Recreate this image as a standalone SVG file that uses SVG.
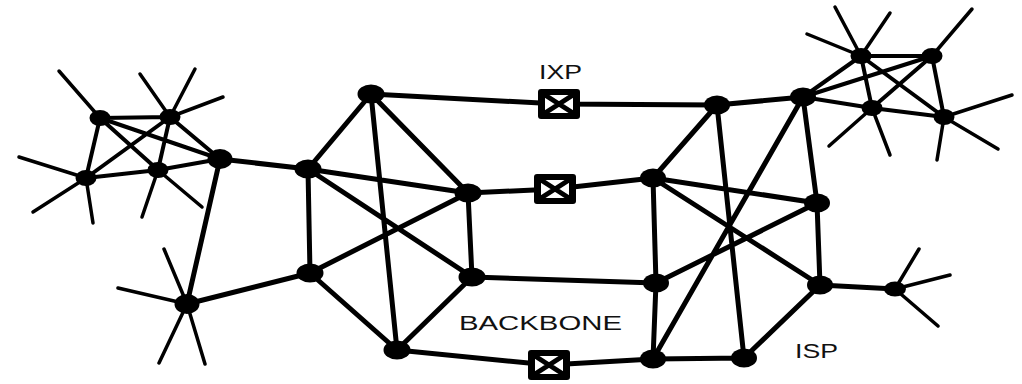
<svg xmlns="http://www.w3.org/2000/svg" width="1022" height="384" viewBox="0 0 1022 384">
<style>
.e{stroke:#000;stroke-width:5;stroke-linecap:round;fill:none}
.c{stroke:#000;stroke-width:4;stroke-linecap:round;fill:none}
.s{stroke:#000;stroke-width:3.5;stroke-linecap:round;fill:none}
.n{fill:#000}
.t{font-family:"Liberation Sans",Arial,sans-serif;font-size:20px;fill:#111}
</style>
<defs>
<g id="ixp">
<rect x="-21" y="-15" width="42" height="30" rx="3" fill="#000"/>
<rect x="-14" y="-9" width="28" height="18" fill="#fff"/>
<path d="M-14,-9 L14,9 M-14,9 L14,-9" stroke="#000" stroke-width="5"/>
</g>
</defs>
<rect width="1022" height="384" fill="#fff"/>
<g id="connectors">
<!-- left cluster spokes -->
<path class="s" d="M100,118 L59,71 M170,117 L140,74 M170,117 L195,69 M170,117 L223,97 M86,178 L19,157 M86,178 L33,212 M86,178 L93,223 M158,170 L142,217 M158,170 L202,207"/>
<!-- left cluster edges -->
<path class="c" d="M100,118 L170,117 M100,118 L86,178 M100,118 L158,170 M100,118 L220,159 M170,117 L86,178 M170,117 L158,170 M170,117 L220,159 M86,178 L158,170 M158,170 L220,159"/>
<!-- bottom-left node spokes -->
<path class="s" d="M187,304 L164,249 M187,304 L118,288 M187,304 L159,363 M187,304 L205,364"/>
<path class="e" d="M220,159 L187,304" stroke-width="6"/>
<path class="e" d="M220,159 L308,169 M187,304 L310,273"/>
<!-- left backbone -->
<path class="e" d="M371,94 L308,169 M371,94 L468,193 M371,94 L397,350 M308,169 L468,193 M308,169 L472,277 M308,169 L310,273 M310,273 L468,193 M310,273 L397,350 M468,193 L472,277 M472,277 L397,350"/>
<!-- inter links -->
<path class="e" d="M371,94 L559,104 L717,105 M468,193 L555,189 L653,178 M397,350 L549,365 L653,359 M472,277 L656,283"/>
<!-- right backbone -->
<path class="e" d="M717,105 L803,97 M717,105 L653,178 M717,105 L744,358 M803,97 L653,359 M803,97 L817,203 M653,178 L817,203 M653,178 L820,285 M653,178 L656,283 M656,283 L653,359 M656,283 L817,203 M817,203 L820,285 M820,285 L744,358 M653,359 L744,358 M820,285 L895,289"/>
<!-- right node spokes -->
<path class="s" d="M895,289 L919,249 M895,289 L950,275 M895,289 L938,326"/>
<!-- top-right cluster -->
<path class="s" d="M861,56 L835,7 M861,56 L890,13 M861,56 L807,34 M932,56 L972,9 M872,108 L829,146 M872,108 L890,155 M944,117 L1012,95 M944,117 L998,149 M944,117 L937,160"/>
<path class="c" d="M803,97 L861,56 M803,97 L932,56 M803,97 L872,108 L944,117 M861,56 L932,56 M861,56 L872,108 M861,56 L944,117 M932,56 L872,108 M932,56 L944,117"/>
</g>
<g id="ixp1"><use href="#ixp" x="559" y="104"/></g>
<g id="ixp2"><use href="#ixp" x="555" y="189"/></g>
<g id="ixp3"><use href="#ixp" x="549" y="365"/></g>
<g id="nodes-left-cluster">
<ellipse class="n" cx="100" cy="118" rx="10.5" ry="8"/>
<ellipse class="n" cx="170" cy="117" rx="10.5" ry="8"/>
<ellipse class="n" cx="86" cy="178" rx="10.5" ry="8"/>
<ellipse class="n" cx="158" cy="170" rx="10.5" ry="8"/>
<ellipse class="n" cx="220" cy="159" rx="12.5" ry="10"/>
<ellipse class="n" cx="187" cy="304" rx="12.5" ry="10"/>
</g>
<g id="nodes-backbone">
<ellipse class="n" cx="371" cy="94" rx="13.5" ry="9.5"/>
<ellipse class="n" cx="308" cy="169" rx="13.5" ry="9.5"/>
<ellipse class="n" cx="468" cy="193" rx="13.5" ry="9.5"/>
<ellipse class="n" cx="310" cy="273" rx="13.5" ry="9.5"/>
<ellipse class="n" cx="472" cy="277" rx="13.5" ry="9.5"/>
<ellipse class="n" cx="397" cy="350" rx="13.5" ry="9.5"/>
</g>
<g id="nodes-isp">
<ellipse class="n" cx="717" cy="105" rx="13" ry="9.5"/>
<ellipse class="n" cx="803" cy="97" rx="13" ry="9.5"/>
<ellipse class="n" cx="653" cy="178" rx="13" ry="9.5"/>
<ellipse class="n" cx="817" cy="203" rx="13" ry="9.5"/>
<ellipse class="n" cx="656" cy="283" rx="13" ry="9.5"/>
<ellipse class="n" cx="820" cy="285" rx="13" ry="9.5"/>
<ellipse class="n" cx="653" cy="359" rx="13" ry="9.5"/>
<ellipse class="n" cx="744" cy="358" rx="13" ry="9.5"/>
<ellipse class="n" cx="895" cy="289" rx="11" ry="7.5"/>
</g>
<g id="nodes-right-cluster">
<ellipse class="n" cx="861" cy="56" rx="10.5" ry="8"/>
<ellipse class="n" cx="932" cy="56" rx="10.5" ry="8"/>
<ellipse class="n" cx="872" cy="108" rx="10.5" ry="8"/>
<ellipse class="n" cx="944" cy="117" rx="10.5" ry="8"/>
</g>
<g id="labels">
<text class="t" x="539" y="79" textLength="43" lengthAdjust="spacingAndGlyphs">IXP</text>
<text class="t" x="459" y="330" textLength="163" lengthAdjust="spacingAndGlyphs">BACKBONE</text>
<text class="t" x="795" y="358" textLength="43" lengthAdjust="spacingAndGlyphs">ISP</text>
</g>
</svg>
